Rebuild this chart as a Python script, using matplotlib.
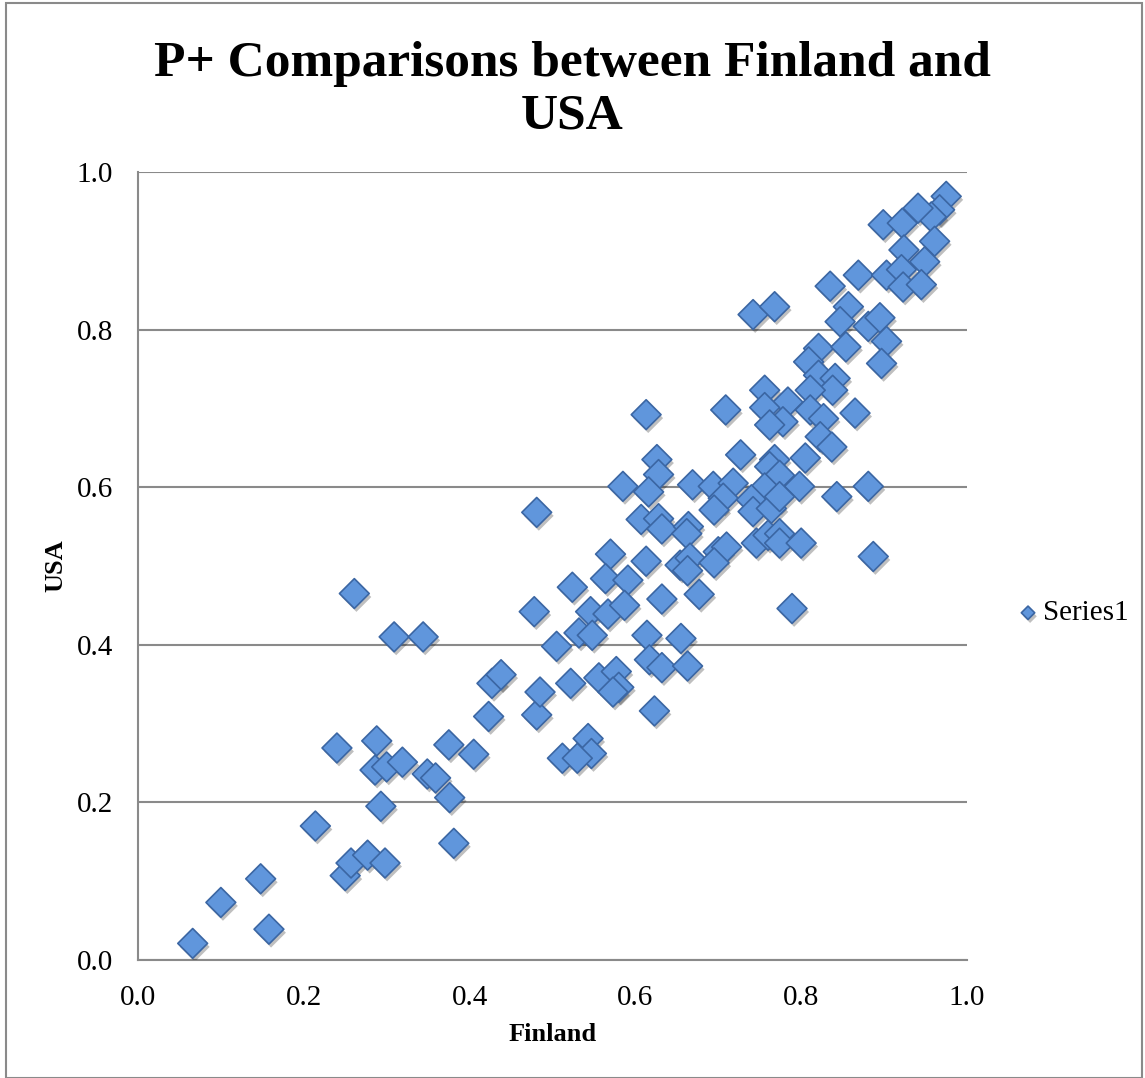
import matplotlib
matplotlib.use('Agg')
import matplotlib.pyplot as plt
import matplotlib.patheffects as pe
from matplotlib.patches import Rectangle

# 数据: Finland / USA 的 P+ 值
finland = [0.066, 0.100, 0.158, 0.148, 0.214, 0.250, 0.257, 0.277, 0.298, 0.293,
           0.381, 0.376, 0.240, 0.288, 0.286, 0.300, 0.319, 0.349, 0.359, 0.375,
           0.405, 0.423, 0.427, 0.438, 0.481, 0.485, 0.261, 0.309, 0.344, 0.478,
           0.613, 0.709, 0.626, 0.628, 0.585, 0.616, 0.669, 0.694, 0.718, 0.706,
           0.695, 0.727, 0.481, 0.607, 0.628, 0.632, 0.664, 0.662, 0.570, 0.613,
           0.654, 0.666, 0.663, 0.700, 0.710, 0.695, 0.564, 0.591, 0.524, 0.632,
           0.677, 0.546, 0.567, 0.587, 0.532, 0.548, 0.505, 0.614, 0.655, 0.617,
           0.632, 0.663, 0.522, 0.556, 0.577, 0.580, 0.573, 0.623, 0.543, 0.547,
           0.512, 0.530,
           0.975, 0.967, 0.957, 0.941, 0.899, 0.922, 0.961, 0.924, 0.949, 0.869,
           0.903, 0.921, 0.923, 0.945, 0.835, 0.742, 0.768, 0.857, 0.847, 0.881,
           0.895, 0.903, 0.897, 0.821, 0.854, 0.809, 0.821, 0.841, 0.838, 0.811,
           0.756, 0.784, 0.756, 0.811, 0.827, 0.865, 0.778, 0.762, 0.823, 0.837,
           0.805, 0.768, 0.762, 0.774, 0.798, 0.843, 0.881, 0.756, 0.740, 0.742,
           0.764, 0.774, 0.746, 0.760, 0.774, 0.774, 0.800, 0.887, 0.789]
usa = [0.021, 0.073, 0.039, 0.103, 0.170, 0.107, 0.123, 0.133, 0.123, 0.195,
       0.148, 0.206, 0.269, 0.278, 0.241, 0.245, 0.251, 0.236, 0.231, 0.273,
       0.261, 0.309, 0.351, 0.362, 0.311, 0.340, 0.465, 0.410, 0.410, 0.442,
       0.692, 0.698, 0.635, 0.616, 0.601, 0.594, 0.603, 0.601, 0.605, 0.586,
       0.571, 0.641, 0.568, 0.559, 0.560, 0.547, 0.550, 0.541, 0.515, 0.506,
       0.501, 0.510, 0.494, 0.518, 0.524, 0.504, 0.484, 0.482, 0.473, 0.458,
       0.464, 0.442, 0.439, 0.450, 0.415, 0.412, 0.398, 0.412, 0.408, 0.381,
       0.371, 0.373, 0.351, 0.358, 0.366, 0.346, 0.340, 0.316, 0.281, 0.262,
       0.256, 0.256,
       0.969, 0.952, 0.943, 0.954, 0.933, 0.935, 0.912, 0.901, 0.886, 0.869,
       0.869, 0.876, 0.854, 0.857, 0.855, 0.819, 0.829, 0.829, 0.810, 0.804,
       0.815, 0.785, 0.757, 0.776, 0.778, 0.759, 0.742, 0.738, 0.723, 0.723,
       0.723, 0.708, 0.701, 0.698, 0.687, 0.694, 0.683, 0.679, 0.664, 0.651,
       0.637, 0.635, 0.626, 0.615, 0.601, 0.588, 0.601, 0.599, 0.584, 0.569,
       0.573, 0.588, 0.529, 0.539, 0.541, 0.529, 0.529, 0.512, 0.446]
ticks = [0.0, 0.2, 0.4, 0.6, 0.8, 1.0]
tick_labels = ['0.0', '0.2', '0.4', '0.6', '0.8', '1.0']

plt.rcParams['font.family'] = ['Liberation Serif', 'DejaVu Serif']

fig = plt.figure(figsize=(11.45, 10.78), dpi=100)
ax = fig.add_axes([0.1205, 0.1095, 0.724, 0.731])

# 阴影效果
shadow = [pe.SimplePatchShadow(offset=(1.5, -2.5), shadow_rgbFace='#000000', alpha=0.25),
          pe.Normal()]
ax.scatter(finland, usa, marker='D', s=230, color='#6096DC', edgecolor='#3B66A3',
           linewidth=1.2, zorder=3, label='Series1', path_effects=shadow)

ax.set_xlim(0, 1)
ax.set_ylim(0, 1)
ax.set_xticks(ticks)
ax.set_xticklabels(tick_labels)
ax.set_yticks(ticks)
ax.set_yticklabels(tick_labels)
ax.tick_params(length=0, labelsize=21)
ax.tick_params(axis='x', pad=18)
ax.tick_params(axis='y', pad=18)
ax.grid(axis='y', color='#8a8a8a', linewidth=1.5)
ax.set_axisbelow(True)
for s in ['top', 'right']:
    ax.spines[s].set_visible(False)
for s in ['left', 'bottom']:
    ax.spines[s].set_color('#8a8a8a')
    ax.spines[s].set_linewidth(1.5)

ax.set_xlabel('Finland', fontsize=19, fontweight='bold')
ax.set_ylabel('USA', fontsize=19, fontweight='bold')
ax.xaxis.set_label_coords(0.5, -0.08)
ax.yaxis.set_label_coords(-0.085, 0.5)
fig.suptitle('P+ Comparisons between Finland and\nUSA', fontsize=37, fontweight='bold',
             y=0.962, linespacing=1.2)

leg = ax.legend(loc='center left', bbox_to_anchor=(1.042, 0.44), frameon=False,
                fontsize=21, markerscale=0.45, handletextpad=0.0, handlelength=1.0,
                borderaxespad=0.0)

# 外框
fig.patches.append(Rectangle((0.005, 0.0), 0.992, 0.997, transform=fig.transFigure,
                             fill=False, edgecolor='#8a8a8a', linewidth=1.5))

fig.savefig('out.png', dpi=100)
